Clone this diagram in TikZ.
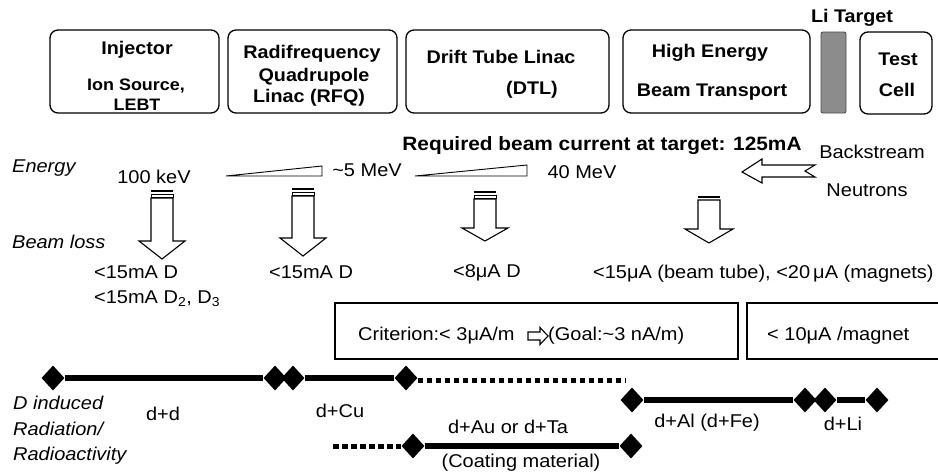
\documentclass[tikz,border=0pt]{standalone}
\usepackage{fontspec}
\setmainfont{Liberation Sans}[FakeStretch=1.08]
\usetikzlibrary{shapes.geometric}

% striped down arrow: x centre, shaft top, head base, tip
\newcommand\lossarrow[4]{%
  \fill (#1-11,#2-8) rectangle (#1+11,#2-6);
  \draw[line width=0.8pt] (#1-11,#2-4) rectangle (#1+11,#2-1);
  \draw[blockline] (#1-11,#2) -- (#1+11,#2) -- (#1+11,#3) -- (#1+23,#3)
    -- (#1,#4) -- (#1-23,#3) -- (#1-11,#3) -- cycle;}

\begin{document}
\begin{tikzpicture}[x=1pt,y=-1pt,
  stage/.style={draw, line width=1.3pt, rounded corners=8pt, inner sep=0pt},
  txt/.style={anchor=base, inner sep=0pt, font=\fontsize{18.5}{22}\selectfont},
  ltxt/.style={txt, anchor=base west},
  itxt/.style={ltxt, font=\fontsize{18.5}{22}\selectfont\itshape},
  hd/.style={txt, font=\fontsize{18.3}{22}\selectfont\bfseries},
  sub/.style={txt, font=\fontsize{16.6}{20}\selectfont\bfseries},
  diam/.style={diamond, fill=black, inner sep=0pt, minimum width=23pt, minimum height=25pt},
  bar/.style={line width=5.5pt},
  dots/.style={line width=5pt, dash pattern=on 5.5pt off 3.5pt},
  blockline/.style={line width=1.1pt, line join=miter},
  wedge/.style={line width=0.9pt},
  limit/.style={line width=1.9pt}]

\fill[white] (0,0) rectangle (938,474);
\useasboundingbox (0,0) rectangle (938,474);

% accelerator stages
\node[stage, minimum width=169pt, minimum height=83pt] (inj) at (134.5,71.5) {};
\node[stage, minimum width=169pt, minimum height=83pt] (rfq) at (312.5,71.5) {};
\node[stage, minimum width=203pt, minimum height=83pt] (dtl) at (507.5,71.5) {};
\node[stage, minimum width=187pt, minimum height=83pt] (hebt) at (716.5,71.5) {};
\node[draw=black!70, fill=black!45, line width=0.9pt, rounded corners=2pt, inner sep=0pt,
      minimum width=25pt, minimum height=81pt] (li) at (833.5,72.5) {};
\node[stage, minimum width=72pt, minimum height=82pt] (cell) at (896,73) {};

\node[hd] (injA) at (137,54) {Injector};
\node[sub] (injB) at (136,90) {Ion Source,};
\node[sub] (injC) at (137,110) {LEBT};
\node[hd] (rfqA) at (312,58) {Radifrequency};
\node[hd] (rfqB) at (314,81) {Quadrupole};
\node[hd] (rfqC) at (309,102) {Linac (RFQ)};
\node[hd] (dtlA) at (501,63) {Drift Tube Linac};
\node[hd] (dtlB) at (532,94) {(DTL)};
\node[hd] (hebtA) at (710,57) {High Energy};
\node[hd] (hebtB) at (712,96) {Beam Transport};
\node[hd] (cellA) at (898,65) {Test};
\node[hd] (cellB) at (897,96) {Cell};
\node[hd] (liT) at (852,22) {Li Target};
\node[txt, font=\fontsize{19.3}{22}\selectfont\bfseries] (req) at (602,150)
  {Required beam current at target: 125mA};

% energy
\node[itxt] (energy) at (12,172) {Energy};
\node[txt] (e1) at (154,183) {100 keV};
\node[txt] (e2) at (367,176) {\textasciitilde5 MeV};
\node[txt] (e3) at (582,178) {40 MeV};
\draw[wedge] (226,176) -- (322,176) -- (322,166) -- cycle;
\draw[wedge] (415,176) -- (527,176) -- (527,165) -- cycle;

% backstream neutrons
\node[txt] (bs) at (872,158) {Backstream};
\node[txt] (nt) at (867,196) {Neutrons};
\draw[blockline] (742,172) -- (762,159) -- (762,165) -- (815,165) -- (805,171)
  -- (815,177) -- (762,177) -- (762,183) -- cycle;

% beam loss
\node[itxt] (loss) at (12,248) {Beam loss};
\lossarrow{162}{198}{241}{259}
\lossarrow{303}{196}{238}{256}
\lossarrow{485}{199}{228}{241}
\fill (698,195.5) rectangle (720,198);
\draw[blockline] (698,200) -- (720,200) -- (720,229) -- (733,229) -- (709,243)
  -- (685,229) -- (698,229) -- cycle;

\node[ltxt] (l1) at (94,278) {<15mA D};
\node[ltxt] (l2) at (94,303) {<15mA D\textsubscript{2}, D\textsubscript{3}};
\node[ltxt] (l3) at (269,278) {<15mA D};
\node[ltxt] (l4) at (453,277) {<8μA D};
\node[ltxt] (l5) at (593,278) {<15μA (beam tube), <20\,μA (magnets)};

% loss criteria
\draw[limit] (335,303) rectangle (738,359);
\draw[limit] (938,303) -- (747,303) -- (747,359) -- (938,359);
\node[ltxt] (crit) at (358,340) {Criterion:< 3μA/m};
\node[ltxt] (goal) at (548,340) {(Goal:\textasciitilde3 nA/m)};
\node[ltxt] (mag) at (767,340) {< 10μA /magnet};
\draw[blockline] (528,332) -- (540,332) -- (540,327.5) -- (548,336) -- (540,344.5)
  -- (540,340) -- (528,340) -- cycle;

% induced radiation
\node[itxt] (dA) at (13,409) {D induced};
\node[itxt] (dB) at (13,435) {Radiation/};
\node[itxt] (dC) at (13,460) {Radioactivity};

\node[diam] (a1) at (53,378) {};
\node[diam] (a2) at (275,378) {};
\node[diam] (a3) at (293,378) {};
\node[diam] (a4) at (406,378) {};
\coordinate (a5) at (625,380);
\draw[bar] (a1) -- (a2);
\draw[bar] (a3) -- (a4);
\draw[dots] ([yshift=-2pt]a4.east) -- (a5);

\node[diam] (b1) at (632,400) {};
\node[diam] (b2) at (805,400) {};
\node[diam] (b3) at (825,400) {};
\node[diam] (b4) at (877,400) {};
\draw[bar] (b1) -- (b2);
\draw[bar] (b3) -- (b4);

\coordinate (c0) at (333,446);
\node[diam] (c1) at (413,446) {};
\node[diam] (c2) at (631,446) {};
\draw[dots] (c0) -- (c1.west);
\draw[bar] (c1) -- (c2);

\node[txt] (t1) at (163,420) {d+d};
\node[txt] (t2) at (340,417) {d+Cu};
\node[txt] (t3) at (508,433) {d+Au or d+Ta};
\node[txt] (t4) at (521,467) {(Coating material)};
\node[txt] (t5) at (707,427) {d+Al (d+Fe)};
\node[txt] (t6) at (843,430) {d+Li};
\end{tikzpicture}
\end{document}
